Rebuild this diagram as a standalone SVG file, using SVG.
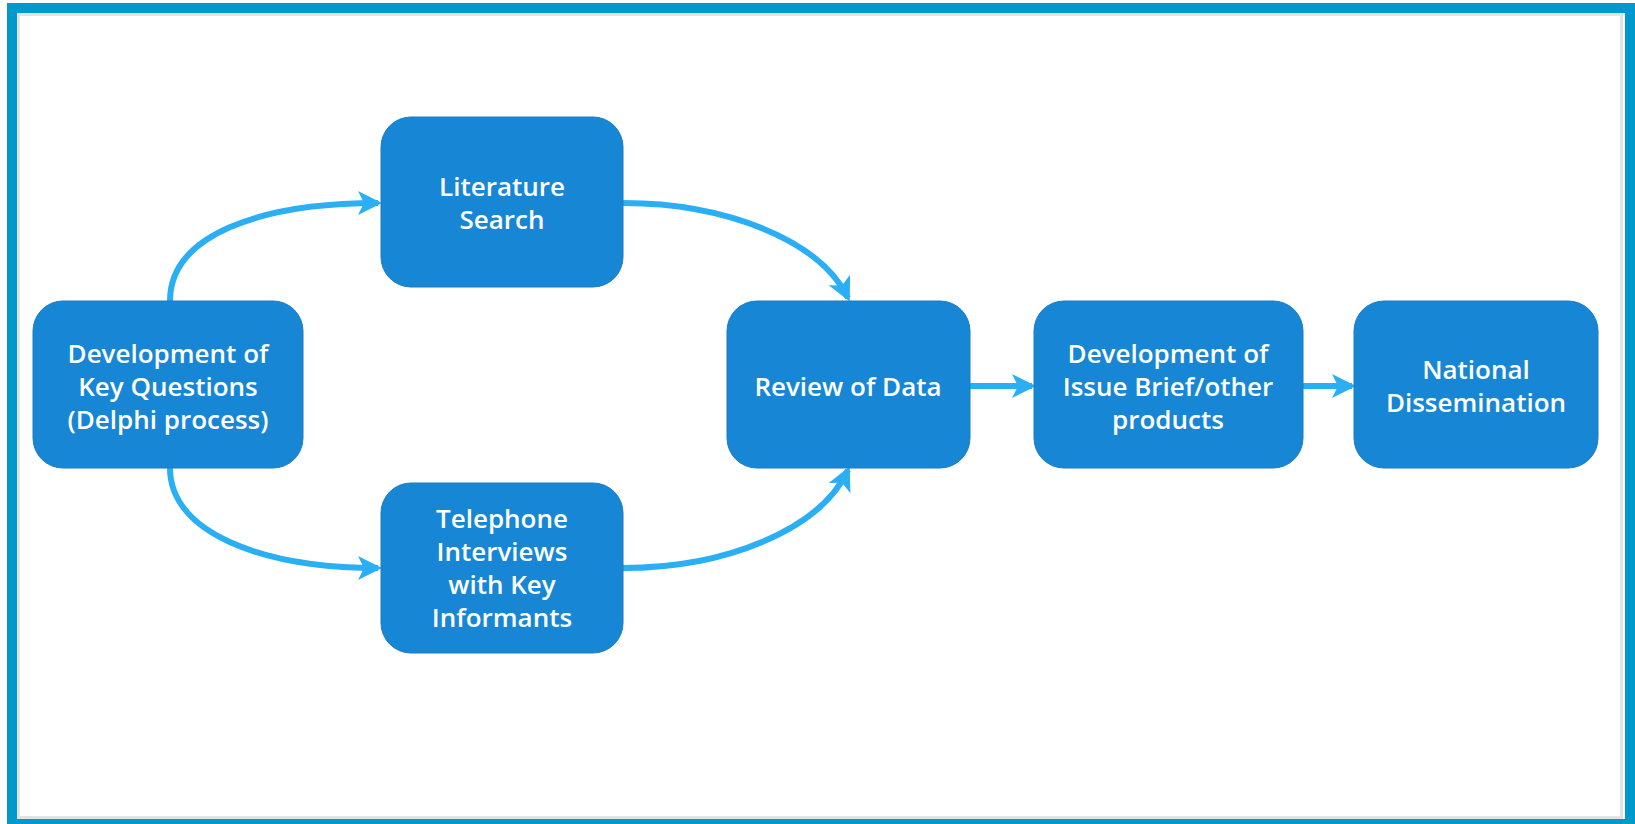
<svg xmlns="http://www.w3.org/2000/svg" width="1635" height="824" viewBox="0 0 1635 824">
  <defs>
    <style>
      .node { fill: #1786d5; stroke: #1b7cc4; stroke-width: 1; }
      .label { fill: #ffffff; font-family: "Open Sans", "Noto Sans", sans-serif; font-size: 26px; font-weight: 600; text-anchor: middle; }
      .link { fill: none; stroke: #2aaff5; stroke-width: 6; marker-end: url(#head); }
    </style>
    <marker id="head" viewBox="0 0 12 12" refX="10" refY="6" markerWidth="4" markerHeight="4" orient="auto" markerUnits="strokeWidth">
      <path d="M0,0 L12,6 L0,12 L3,6 Z" fill="#2aaff5"/>
    </marker>
  </defs>

  <!-- frame -->
  <rect x="0" y="0" width="1635" height="824" fill="#ffffff"/>
  <rect x="12" y="8" width="1618" height="816" fill="none" stroke="#0099cc" stroke-width="10"/>
  <rect x="18.5" y="14.5" width="1603" height="803" fill="none" stroke="#e2e2e2" stroke-width="3"/>

  <!-- connectors -->
  <g id="connectors">
    <path class="link" d="M170,301 C170,235 260,203 378,203"/>
    <path class="link" d="M623,203 C725,203 820,240 848,298"/>
    <path class="link" d="M170,468 C170,532 260,568 378,568"/>
    <path class="link" d="M623,568 C725,568 820,530 848,470"/>
    <path class="link" d="M970,386 L1032,386"/>
    <path class="link" d="M1303,386 L1352,386"/>
  </g>

  <g id="key-questions">
    <rect class="node" x="33" y="301" width="270" height="167" rx="30"/>
    <text class="label" x="168" y="363">Development of</text>
    <text class="label" x="168" y="396">Key Questions</text>
    <text class="label" x="168" y="429">(Delphi process)</text>
  </g>

  <g id="literature-search">
    <rect class="node" x="381" y="117" width="242" height="170" rx="30"/>
    <text class="label" x="502" y="196">Literature</text>
    <text class="label" x="502" y="229">Search</text>
  </g>

  <g id="telephone-interviews">
    <rect class="node" x="381" y="483" width="242" height="170" rx="30"/>
    <text class="label" x="502" y="528">Telephone</text>
    <text class="label" x="502" y="561">Interviews</text>
    <text class="label" x="502" y="594">with Key</text>
    <text class="label" x="502" y="627">Informants</text>
  </g>

  <g id="review-of-data">
    <rect class="node" x="727" y="301" width="243" height="167" rx="30"/>
    <text class="label" x="848" y="396">Review of Data</text>
  </g>

  <g id="issue-brief">
    <rect class="node" x="1034" y="301" width="269" height="167" rx="30"/>
    <text class="label" x="1168" y="363">Development of</text>
    <text class="label" x="1168" y="396">Issue Brief/other</text>
    <text class="label" x="1168" y="429">products</text>
  </g>

  <g id="national-dissemination">
    <rect class="node" x="1354" y="301" width="244" height="167" rx="30"/>
    <text class="label" x="1476" y="379">National</text>
    <text class="label" x="1476" y="412">Dissemination</text>
  </g>
</svg>
